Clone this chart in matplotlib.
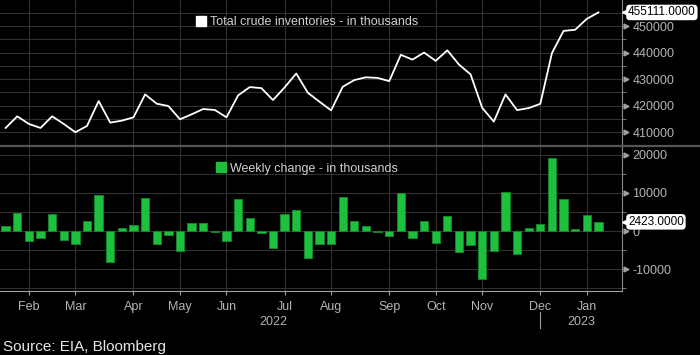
import numpy as np
import pandas as pd
import matplotlib
matplotlib.use('Agg')
import matplotlib.pyplot as plt
import matplotlib.dates as mdates
from matplotlib.patches import Patch
from matplotlib.lines import Line2D
from matplotlib.ticker import FixedLocator, FuncFormatter
from matplotlib.transforms import blended_transform_factory

plt.rcParams['font.family'] = ['Liberation Sans', 'DejaVu Sans']

# weekly EIA data (Wednesdays)
dates = pd.date_range('2022-01-19', periods=52, freq='7D')

# total crude inventories, thousands of barrels
inventory = [411625, 416000, 413125, 411625, 416000, 413125, 410000, 412375, 421750, 413625,
             414375, 415625, 424250, 420750, 419875, 414875, 416750, 418750, 418375, 415625,
             423875, 427000, 426625, 422125, 426875, 432125, 424875, 421500, 418250, 427125,
             429650, 430700, 430450, 429250, 439150, 437350, 440000, 436900, 440850, 435500,
             431800, 419200, 414000, 424250, 418350, 419100, 420700, 439800, 448150, 448600,
             452700, 455111]

# weekly change, thousands of barrels
weekly_change = [1230, 4650, -2540, -1930, 4390, -2460, -3500, 2540, 9470, -8070,
                 790, 1490, 8600, -3500, -960, -5090, 2100, 2020, -350, -2720,
                 8330, 3420, -440, -4560, 4470, 5530, -7020, -3330, -3330, 9040,
                 2540, 1230, -350, -1400, 9910, -1840, 2630, -3070, 3950, -5440,
                 -3770, -12540, -5180, 10260, -5960, 790, 1750, 19120, 8420, 530,
                 4210, 2423]

month_ticks = pd.to_datetime(['2022-02-02', '2022-03-02', '2022-04-06', '2022-05-04',
                              '2022-06-01', '2022-07-06', '2022-08-03', '2022-09-07',
                              '2022-10-05', '2022-11-02', '2022-12-07', '2023-01-04'])
month_labels = ['Feb', 'Mar', 'Apr', 'May', 'Jun', 'Jul', 'Aug', 'Sep', 'Oct', 'Nov', 'Dec', 'Jan']

W, H = 700, 355
fig = plt.figure(figsize=(W / 100, H / 100), dpi=100, facecolor='black')

def fy(px):
    return 1 - px / H

ax1 = fig.add_axes([0, fy(145), 622 / W, 145 / H])
ax2 = fig.add_axes([0, fy(291), 622 / W, (291 - 146) / H])

grid_c = '#303030'
tick_c = '#b4b4b4'
spine_c = '#8c8c8c'
xnum = mdates.date2num(dates)
xlim = (xnum[0] - 3.4, xnum[-1] + 14.2)

for ax in (ax1, ax2):
    ax.set_facecolor('black')
    for s in ('top', 'left'):
        ax.spines[s].set_visible(False)
    ax.spines['right'].set_color(spine_c)
    ax.spines['bottom'].set_color('#a0a0a0')
    ax.yaxis.tick_right()
    ax.set_xticks(mdates.date2num(month_ticks))
    ax.grid(axis='x', which='major', color=grid_c, lw=0.8)
    ax.grid(axis='y', which='both', color=grid_c, lw=0.8)
    ax.set_axisbelow(True)
    ax.tick_params(axis='y', which='major', length=0, pad=7.5, labelcolor=tick_c, labelsize=9)
    ax.tick_params(axis='y', which='minor', length=3, color=spine_c)
    ax.yaxis.set_major_formatter(FuncFormatter(lambda v, p: f'{int(round(v))}'))

ax1.spines['bottom'].set_visible(False)
ax1.tick_params(axis='x', length=0, labelbottom=False)

# top: inventories line
ax1.plot(xnum, inventory, color='white', lw=1.3)
ax1.yaxis.set_major_locator(FixedLocator([410000, 420000, 430000, 440000, 450000]))
ax1.yaxis.set_minor_locator(FixedLocator([405000, 415000, 425000, 435000, 445000, 455000]))
ax1.set_ylim(405200, 459800)
ax1.set_xlim(xlim)

# bottom: weekly change bars
ax2.bar(xnum, weekly_change, width=5, color='#1dbf3c', edgecolor='#12852a', lw=0.7)
ax2.yaxis.set_major_locator(FixedLocator([-10000, 0, 10000, 20000]))
ax2.yaxis.set_minor_locator(FixedLocator([-15000, -5000, 5000, 15000]))
ax2.set_ylim(-15700, 22300)
ax2.set_xticklabels(month_labels)
ax2.tick_params(axis='x', length=3, color='#a0a0a0', pad=4, labelcolor=tick_c, labelsize=9)

# triangle tick markers on the right
for ax in (ax1, ax2):
    tr = blended_transform_factory(ax.transAxes, ax.transData)
    vals = ax.yaxis.get_major_locator()()
    ax.plot([1 + 4 / 622] * len(vals), vals, ls='none', marker='>', ms=3.5,
            color='#a0a0a0', transform=tr, clip_on=False)

def tag(ax, value, text):
    tr = blended_transform_factory(ax.transAxes, ax.transData)
    ax.text(1 + 6 / 622, value, text, transform=tr, ha='left', va='center', fontsize=8.5,
            color='black', clip_on=False, zorder=10,
            bbox=dict(boxstyle='round,pad=0.15,rounding_size=0.3', fc='white', ec='none'))
    ax.plot([1 + 4 / 622], [value], marker='<', ms=6, color='white', transform=tr,
            clip_on=False, zorder=9)

tag(ax1, inventory[-1], f'{inventory[-1]:.4f}')
tag(ax2, weekly_change[-1], f'{weekly_change[-1]:.4f}')

# legends
leg1 = ax1.legend(handles=[Patch(color='white', label='Total crude inventories - in thousands')],
                  loc='center left', bbox_to_anchor=(196 / 622, 1 - 22 / 145), frameon=False,
                  borderpad=0, borderaxespad=0, handletextpad=0.3, handlelength=0.8,
                  handleheight=0.8, fontsize=9, labelcolor='#d0d0d0')
leg2 = ax2.legend(handles=[Patch(color='#1dbf3c', label='Weekly change - in thousands')],
                  loc='center left', bbox_to_anchor=(216 / 622, 1 - 22.5 / 145), frameon=False,
                  borderpad=0, borderaxespad=0, handletextpad=0.3, handlelength=0.8,
                  handleheight=0.8, fontsize=9, labelcolor='#d0d0d0')

# year labels and separator
ytr = blended_transform_factory(ax2.transData, fig.transFigure)
x2022 = (xnum[0] + mdates.date2num(month_ticks[10])) / 2
x2023 = (mdates.date2num(month_ticks[10]) + xlim[1]) / 2
ax2.text(x2022, fy(322), '2022', transform=ytr, ha='center', va='center', fontsize=9, color=tick_c)
ax2.text(x2023, fy(322), '2023', transform=ytr, ha='center', va='center', fontsize=9, color=tick_c)
sep_x = mdates.date2num(month_ticks[10])
ax2.add_line(Line2D([sep_x, sep_x], [fy(312), fy(328)], transform=ytr, color='#a0a0a0',
                    lw=0.8, clip_on=False))
ax2.set_xlim(xlim)
ax2.set_ylim(-15700, 22300)

# panel separator
fig.add_artist(Line2D([0, 1], [fy(145.5), fy(145.5)], color='#555555', lw=1.6))

fig.text(3 / W, fy(346.5), 'Source: EIA, Bloomberg', va='center', ha='left', fontsize=11,
         color='#e6e6e6')

fig.savefig('out.png', dpi=100, facecolor='black')
